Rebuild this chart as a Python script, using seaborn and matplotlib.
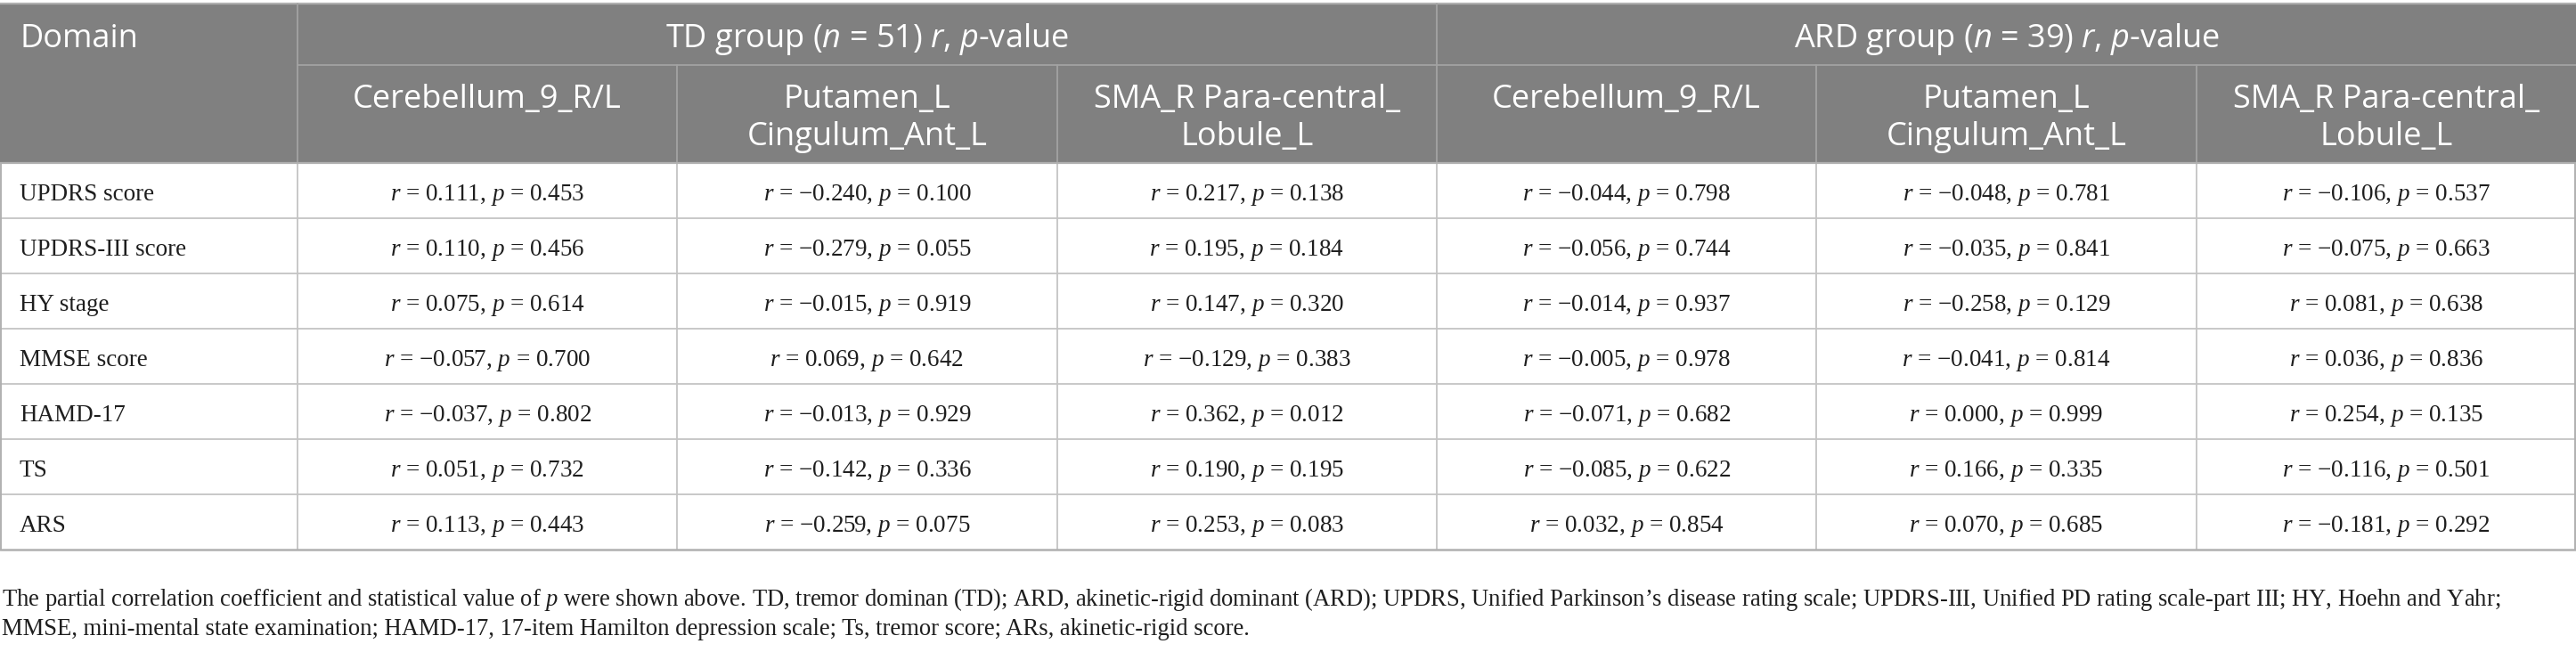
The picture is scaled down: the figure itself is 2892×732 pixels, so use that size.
import matplotlib
matplotlib.use("Agg")
import matplotlib.pyplot as plt
import seaborn as sns
from matplotlib.patches import Rectangle

# ---------------- data ----------------
domains = ["UPDRS score", "UPDRS-III score", "HY stage", "MMSE score", "HAMD-17", "TS", "ARS"]
groups = ["TD", "ARD"]
group_n = [51, 39]
regions = ["Cerebellum_9_R/L", "Putamen_L\nCingulum_Ant_L", "SMA_R Para-central_\nLobule_L"]

td_r = [[0.111, -0.240, 0.217],
        [0.110, -0.279, 0.195],
        [0.075, -0.015, 0.147],
        [-0.057, 0.069, -0.129],
        [-0.037, -0.013, 0.362],
        [0.051, -0.142, 0.190],
        [0.113, -0.259, 0.253]]
td_p = [[0.453, 0.100, 0.138],
        [0.456, 0.055, 0.184],
        [0.614, 0.919, 0.320],
        [0.700, 0.642, 0.383],
        [0.802, 0.929, 0.012],
        [0.732, 0.336, 0.195],
        [0.443, 0.075, 0.083]]
ard_r = [[-0.044, -0.048, -0.106],
         [-0.056, -0.035, -0.075],
         [-0.014, -0.258, 0.081],
         [-0.005, -0.041, 0.036],
         [-0.071, 0.000, 0.254],
         [-0.085, 0.166, -0.116],
         [0.032, 0.070, -0.181]]
ard_p = [[0.798, 0.781, 0.537],
         [0.744, 0.841, 0.663],
         [0.937, 0.129, 0.638],
         [0.978, 0.814, 0.836],
         [0.682, 0.999, 0.135],
         [0.622, 0.335, 0.501],
         [0.854, 0.685, 0.292]]

footnote_lines = [
    "The partial correlation coefficient and statistical value of $p$ were shown above. TD, tremor dominan (TD); "
    "ARD, akinetic-rigid dominant (ARD); UPDRS, Unified Parkinson\u2019s disease rating scale; UPDRS-III, "
    "Unified PD rating scale-part III; HY, Hoehn and Yahr;",
    "MMSE, mini-mental state examination; HAMD-17, 17-item Hamilton depression scale; Ts, tremor score; "
    "ARs, akinetic-rigid score.",
]

# ---------------- style ----------------
sns.set_theme(style="white")
plt.rcParams["font.family"] = ["Liberation Serif", "DejaVu Serif"]
plt.rcParams["mathtext.fontset"] = "custom"
plt.rcParams["mathtext.rm"] = "Liberation Serif"
plt.rcParams["mathtext.it"] = "Liberation Serif:italic"
plt.rcParams["mathtext.sf"] = "Open Sans:italic"

W, H = 2892, 732
fig = plt.figure(figsize=(W / 100, H / 100), dpi=100)
ax = fig.add_axes([0, 0, 1, 1])
ax.set_xlim(0, W)
ax.set_ylim(H, 0)
ax.axis("off")

HEAD_BG = "#808080"
SANS = "Open Sans"
TXT = "#1e1e1e"
head_fs = 26
body_fs = 19.5
foot_fs = 20.5

first_w = 334
ncols = 6
data_w = (W - first_w) / ncols
col_edges = [0, first_w] + [first_w + data_w * (i + 1) for i in range(ncols)]
top = 4
h1 = 72.7
h2 = 183
row_h = 62
n_rows = len(domains)
bottom = h2 + row_h * n_rows

# header background
ax.add_patch(Rectangle((0, top), W, h2 - top, facecolor=HEAD_BG, edgecolor="none", zorder=0))

line_head = "#a3a3a3"
line_body = "#c4c4c4"
line_border = "#b0b0b0"
lw = 1.3

# header lines
ax.plot([0, W], [top, top], color=line_border, lw=1.6, zorder=2)
ax.plot([first_w, W], [h1, h1], color=line_head, lw=lw, zorder=2)
ax.plot([first_w, first_w], [top, h2], color=line_head, lw=lw, zorder=2)
ax.plot([col_edges[4], col_edges[4]], [top, h2], color=line_head, lw=lw, zorder=2)
for i in [2, 3, 5, 6]:
    ax.plot([col_edges[i], col_edges[i]], [h1, h2], color=line_head, lw=lw, zorder=2)

# body lines
for r in range(1, n_rows):
    y = h2 + r * row_h
    ax.plot([0, W], [y, y], color=line_body, lw=lw, zorder=2)
for i in range(1, len(col_edges) - 1):
    ax.plot([col_edges[i], col_edges[i]], [h2, bottom], color=line_body, lw=lw, zorder=2)
for xe in [0.6, W - 0.8]:
    ax.plot([xe, xe], [h2, bottom], color=line_border, lw=1.4, zorder=3)
ax.plot([0, W], [h2, h2], color=line_border, lw=1.6, zorder=3)
ax.plot([0, W], [bottom, bottom], color=line_border, lw=1.8, zorder=3)

# header texts
ax.text(23, 53, "Domain", family=SANS, fontsize=head_fs, color="white", va="baseline", ha="left")
for g, (name, n) in enumerate(zip(groups, group_n)):
    x0 = col_edges[1 + 3 * g]
    x1 = col_edges[4 + 3 * g]
    ax.text((x0 + x1) / 2, 53,
            f"{name} group ($\\mathsf{{n}}$ = {n}) $\\mathsf{{r}}$, $\\mathsf{{p}}$-value",
            family=SANS, fontsize=head_fs, color="white", va="baseline", ha="center")
    for k, reg in enumerate(regions):
        cx = (col_edges[1 + 3 * g + k] + col_edges[2 + 3 * g + k]) / 2
        for li, part in enumerate(reg.split("\n")):
            ax.text(cx, 121 + li * 41.5, part, family=SANS, fontsize=head_fs,
                    color="white", va="baseline", ha="center")


def fmt(v):
    s = f"{v:.3f}"
    return s.replace("-", "\u2212")


# body texts
for r, dom in enumerate(domains):
    yb = h2 + r * row_h + 42
    ax.text(22, yb, dom, fontsize=body_fs, color=TXT, va="baseline", ha="left")
    for g, (rr, pp) in enumerate([(td_r, td_p), (ard_r, ard_p)]):
        for k in range(3):
            ci = 1 + 3 * g + k
            cx = (col_edges[ci] + col_edges[ci + 1]) / 2
            txt = f"$r$ = {fmt(rr[r][k])}, $p$ = {fmt(pp[r][k])}"
            ax.text(cx, yb, txt, fontsize=body_fs, color=TXT, va="baseline", ha="center")

# footnote: fit first line to the reference's line length
foot_texts = []
for i, line in enumerate(footnote_lines):
    foot_texts.append(ax.text(2, 680 + i * 33, line, fontsize=foot_fs, color=TXT,
                              va="baseline", ha="left"))
renderer = fig.canvas.get_renderer()
w1 = foot_texts[0].get_window_extent(renderer).width
target = 2804
new_fs = foot_fs * target / w1
for t in foot_texts:
    t.set_fontsize(new_fs)

fig.savefig("out.png", dpi=100, facecolor="white")
